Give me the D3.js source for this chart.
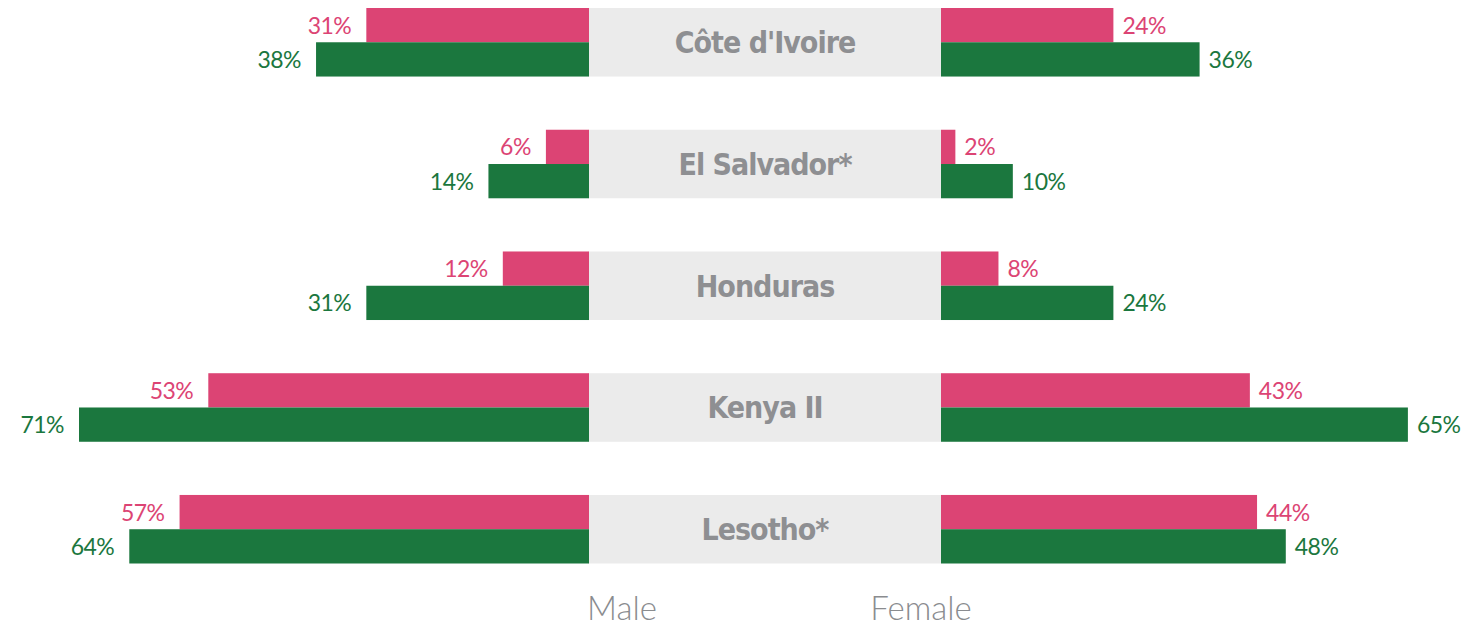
<!DOCTYPE html>
<meta charset="utf-8">
<style>
body { margin: 0; background: #fff; }
.pct { font-family: Lato, "Open Sans", sans-serif; font-weight: 400; font-size: 23px; letter-spacing: -0.5px; }
.country { font-family: "Liberation Sans Narrow", "DejaVu Sans Condensed", sans-serif; font-weight: 700; font-size: 30px; letter-spacing: -1px; fill: #8e8f92; }
.side { font-family: Lato, "Open Sans", sans-serif; font-weight: 300; font-size: 33px; fill: #8a8c8f; }
</style>
<svg width="1466" height="632"></svg>
<script src="https://d3js.org/d3.v7.min.js"></script>
<script>

var countries = ["Côte d'Ivoire", "El Salvador*", "Honduras", "Kenya II", "Lesotho*"];
// top (pink) and bottom (green) bar of each row, in percent
var maleTop = [31, 6, 12, 53, 57];
var maleBottom = [38, 14, 31, 71, 64];
var femaleTop = [24, 2, 8, 43, 44];
var femaleBottom = [36, 10, 24, 65, 48];
var sideLabels = ["Male", "Female"];

var pink = "#dc4474", green = "#1b773e";

var svg = d3.select("svg");

var midLeft = 589, midRight = 941;

var y = d3.scaleBand()
    .domain(countries)
    .range([8, 563.5])
    .paddingInner(0.437)
    .paddingOuter(0);

var ySub = d3.scaleBand()
    .domain(["top", "bottom"])
    .range([0, y.bandwidth()]);

// bar length in px for a percentage
var len = d3.scaleLinear().domain([0, 100]).range([0, 718.3]);

var rows = countries.map(function(c, i) {
  return {country: c, bars: [
    {side: "m", key: "top", v: maleTop[i]},
    {side: "m", key: "bottom", v: maleBottom[i]},
    {side: "f", key: "top", v: femaleTop[i]},
    {side: "f", key: "bottom", v: femaleBottom[i]}
  ]};
});

var row = svg.selectAll("g.row")
  .data(rows)
  .enter().append("g")
    .attr("class", "row")
    .attr("transform", function(d) { return "translate(0," + y(d.country) + ")"; });

// grey middle box
row.append("rect")
    .attr("x", midLeft - 1)
    .attr("width", midRight - midLeft + 1)
    .attr("height", y.bandwidth())
    .attr("fill", "#ebebeb");

row.append("text")
    .attr("class", "country")
    .attr("x", (midLeft + midRight) / 2)
    .attr("y", y.bandwidth() / 2 + 11)
    .attr("text-anchor", "middle")
    .text(function(d) { return d.country; });

var bar = row.selectAll("g.bar")
  .data(function(d) { return d.bars; })
  .enter().append("g")
    .attr("class", "bar");

bar.append("rect")
    .attr("x", function(d) { return d.side == "m" ? midLeft - len(d.v) : midRight; })
    .attr("y", function(d) { return ySub(d.key); })
    .attr("width", function(d) { return len(d.v); })
    .attr("height", ySub.bandwidth())
    .attr("fill", function(d) { return d.key == "top" ? pink : green; });

bar.append("text")
    .attr("class", "pct")
    .attr("x", function(d) { return d.side == "m" ? midLeft - len(d.v) - 15 : midRight + len(d.v) + 9; })
    .attr("y", function(d) { return ySub(d.key) + ySub.bandwidth() / 2 + 8.5; })
    .attr("text-anchor", function(d) { return d.side == "m" ? "end" : "start"; })
    .attr("fill", function(d) { return d.key == "top" ? pink : green; })
    .text(function(d) { return d.v + "%"; });

svg.selectAll("text.side")
  .data(sideLabels)
  .enter().append("text")
    .attr("class", "side")
    .attr("x", function(d, i) { return i == 0 ? 622 : 921; })
    .attr("y", 620)
    .attr("text-anchor", "middle")
    .text(function(d) { return d; });

</script>
